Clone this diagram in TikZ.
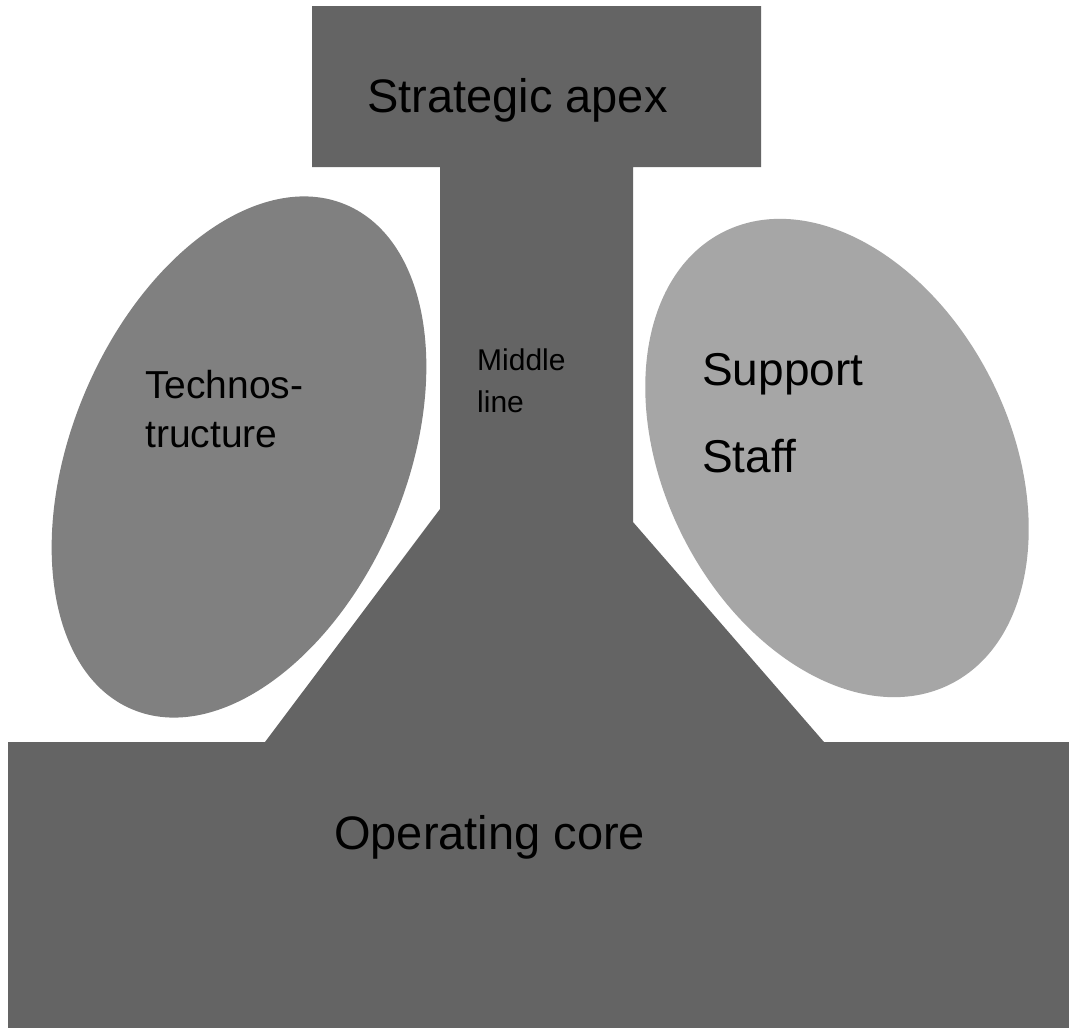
\documentclass[tikz,border=0pt]{standalone}
\usepackage{fontspec}
\setmainfont{Liberation Sans}
\definecolor{coregray}{RGB}{100,100,100}
\definecolor{technogray}{RGB}{128,128,128}
\definecolor{supportgray}{RGB}{166,166,166}
\tikzset{
  label47/.style={anchor=base west, inner sep=0pt, text=black, font=\fontsize{47}{56}\selectfont},
  label46/.style={anchor=base west, inner sep=0pt, text=black, font=\fontsize{46}{55}\selectfont},
  label39/.style={anchor=base west, inner sep=0pt, text=black, font=\fontsize{39}{47}\selectfont},
  label30/.style={anchor=base west, inner sep=0pt, text=black, font=\fontsize{30}{36}\selectfont},
}
\begin{document}
\begin{tikzpicture}[x=1pt, y=-1pt]
  \useasboundingbox (0,0) rectangle (1069,1028);
  \fill[white] (0,0) rectangle (1069,1028);

  % organisation body: apex, middle line, widening base, operating core
  \fill[coregray]
    (312,6) -- (761,6) -- (761,167) -- (633,167) -- (633,522)
    -- (824,742) -- (1069,742) -- (1069,1028) -- (8,1028) -- (8,742)
    -- (265,742) -- (440,509) -- (440,167) -- (312,167) -- cycle;

  % side units
  \fill[technogray, rotate around={67:(239,457)}]
    (239,457) ellipse [x radius=274pt, y radius=167pt];
  \fill[supportgray, rotate around={116.6:(837,458)}]
    (837,458) ellipse [x radius=253pt, y radius=173pt];

  % labels
  \node[label47] (apex) at (367,112) {Strategic apex};
  \node[label30] (middle1) at (477,370) {Middle};
  \node[label30] (middle2) at (477,412) {line};
  \node[label39] (techno1) at (145,398) {Technos-};
  \node[label39] (techno2) at (145,447) {tructure};
  \node[label46] (support1) at (702,385) {Support};
  \node[label46] (support2) at (702,472) {Staff};
  \node[label47] (core) at (334,849) {Operating core};
\end{tikzpicture}
\end{document}
